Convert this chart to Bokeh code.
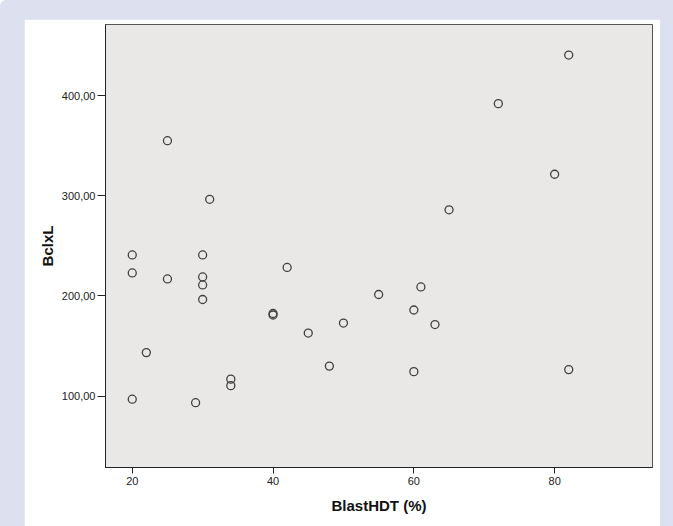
from bokeh.plotting import figure
from bokeh.layouts import column
from bokeh.models import Range1d, FixedTicker, CustomJSTickFormatter, ColumnDataSource
from bokeh.embed import file_html
from bokeh.resources import INLINE

# Data
blast_hdt = [20, 20, 20, 22, 25, 25, 29, 30, 30, 30, 30, 31, 34, 34, 40, 40, 42,
             45, 48, 50, 55, 60, 60, 61, 63, 65, 72, 80, 82, 82]
bclxl = [241, 223, 97, 143.5, 355, 217, 93.5, 241, 219, 211, 196.5, 296.5, 117, 110.5,
         182.5, 181, 228.5, 163, 130, 173, 201.5, 186, 124.5, 209, 171.5, 286, 392,
         321.5, 440.5, 126.5]
x_ticks = [20, 40, 60, 80]
y_ticks = [100, 200, 300, 400]
x_label = "BlastHDT (%)"
y_label = "BclxL"

src = ColumnDataSource(dict(x=blast_hdt, y=bclxl))

p = figure(width=636, height=507, output_backend="svg", toolbar_location=None,
           x_range=Range1d(16.2, 93.9), y_range=Range1d(28.8, 471),
           min_border_left=81, min_border_top=5, min_border_right=8, min_border_bottom=59,
           background_fill_color="#E9E8E6", border_fill_color="#FFFFFF")
p.outline_line_color = "#555555"
p.outline_line_width = 1
p.xgrid.visible = False
p.ygrid.visible = False

p.scatter("x", "y", source=src, marker="circle", size=8, fill_color=None,
          line_color="#404040", line_width=1.3)

for ax in (p.xaxis[0], p.yaxis[0]):
    ax.axis_line_color = "#222222"
    ax.major_tick_line_color = "#222222"
    ax.minor_tick_line_color = None
    ax.major_tick_in = 0
    ax.major_label_text_font = "Liberation Sans"
    ax.major_label_text_font_size = "11px"
    ax.major_label_text_color = "#222222"
    ax.axis_label_text_font = "Liberation Sans"
    ax.axis_label_text_font_size = "15px"
    ax.axis_label_text_font_style = "bold"
    ax.axis_label_text_color = "#111111"

p.xaxis[0].ticker = FixedTicker(ticks=x_ticks)
p.yaxis[0].ticker = FixedTicker(ticks=y_ticks)
p.xaxis[0].major_tick_out = 6
p.yaxis[0].major_tick_out = 8
p.xaxis[0].major_label_standoff = 3
p.yaxis[0].major_label_standoff = 2
p.xaxis[0].axis_label = x_label
p.yaxis[0].axis_label = y_label
p.xaxis[0].axis_label_standoff = 9
p.yaxis[0].axis_label_standoff = 3
p.yaxis[0].formatter = CustomJSTickFormatter(code="return tick.toFixed(2).replace('.', ',');")

layout = column(p, styles={"background-color": "#DDE0EE",
                           "padding": "19px 13px 0px 24px",
                           "border-top-left-radius": "6px"})

open("out.html", "w").write(file_html(layout, INLINE))
